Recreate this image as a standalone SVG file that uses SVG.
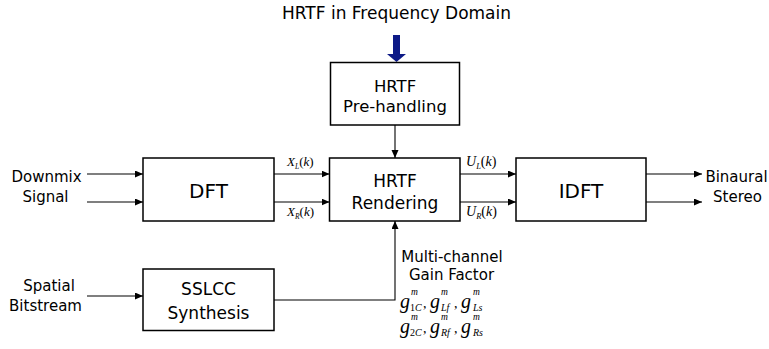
<svg xmlns="http://www.w3.org/2000/svg" width="769" height="349" viewBox="0 0 769 349">
<style>
.box{fill:#fff;stroke:#000;stroke-width:1.5}
.lbl{font-family:"DejaVu Sans",Verdana,sans-serif;fill:#000;text-anchor:middle}
.side{font-size:15px}
.bx{font-size:17px}
.big{font-size:20px}
.ln{fill:none;stroke:#000;stroke-width:1.1}
.m{font-family:"Liberation Serif","Times New Roman",serif;fill:#000}
.mi{font-style:italic}
.g{font-size:20px;font-style:italic}
.sp{font-size:9.5px;font-style:italic}
.sb{font-size:10px}
.cm{font-size:14px}
</style>
<defs>
<marker id="ah" markerUnits="userSpaceOnUse" markerWidth="9" markerHeight="8" refX="8" refY="3.5" orient="auto">
<path d="M0,0 L8,3.5 L0,7 z" fill="#000"/>
</marker>
</defs>

<text class="lbl" x="396.5" y="19" style="font-size:17px">HRTF in Frequency Domain</text>
<path d="M393,35 H400 V54 H406 L396.5,62 L387,54 H393 Z" fill="#0d1a87"/>

<g id="prehandling">
<rect class="box" x="330.5" y="62.5" width="129" height="62.5"/>
<text class="lbl" x="395" y="91.5" style="font-size:16.5px">HRTF</text>
<text class="lbl" x="395" y="112" style="font-size:16.5px">Pre-handling</text>
</g>

<g id="dft">
<rect class="box" x="143" y="158" width="131" height="63"/>
<text class="lbl big" x="208.5" y="198">DFT</text>
</g>

<g id="rendering">
<rect class="box" x="329.5" y="158" width="130.5" height="63"/>
<text class="lbl bx" x="395" y="187">HRTF</text>
<text class="lbl bx" x="395" y="209">Rendering</text>
</g>

<g id="idft">
<rect class="box" x="516" y="158" width="130" height="63"/>
<text class="lbl big" x="581" y="198">IDFT</text>
</g>

<g id="sslcc">
<rect class="box" x="143" y="269" width="131" height="61.5"/>
<text class="lbl bx" x="208.5" y="295">SSLCC</text>
<text class="lbl bx" x="208.5" y="319">Synthesis</text>
</g>

<g id="labels">
<text class="lbl side" x="46.5" y="182.3">Downmix</text>
<text class="lbl side" x="45.5" y="202">Signal</text>
<text class="lbl side" x="49" y="290.7">Spatial</text>
<text class="lbl side" x="45.5" y="310.5">Bitstream</text>
<text class="lbl side" x="736.5" y="181.7">Binaural</text>
<text class="lbl side" x="737.5" y="201.7">Stereo</text>
<text class="lbl side" x="452" y="261.5">Multi-channel</text>
<text class="lbl side" x="451.5" y="280">Gain Factor</text>
</g>

<g id="connectors">
<line class="ln" x1="87" y1="174" x2="143" y2="174" marker-end="url(#ah)"/>
<line class="ln" x1="87" y1="202" x2="143" y2="202" marker-end="url(#ah)"/>
<line class="ln" x1="87" y1="296" x2="143" y2="296" marker-end="url(#ah)"/>
<line class="ln" x1="274" y1="174" x2="329.5" y2="174" marker-end="url(#ah)"/>
<line class="ln" x1="274" y1="202" x2="329.5" y2="202" marker-end="url(#ah)"/>
<line class="ln" x1="460" y1="174" x2="516" y2="174" marker-end="url(#ah)"/>
<line class="ln" x1="460" y1="202" x2="516" y2="202" marker-end="url(#ah)"/>
<line class="ln" x1="646" y1="174" x2="702" y2="174" marker-end="url(#ah)"/>
<line class="ln" x1="646" y1="202" x2="702" y2="202" marker-end="url(#ah)"/>
<line class="ln" x1="395" y1="125" x2="395" y2="158" marker-end="url(#ah)"/>
<polyline class="ln" points="274,300 395,300 395,221" marker-end="url(#ah)"/>
</g>

<g id="signal-labels">
<text class="m" x="287" y="166" style="font-size:13px"><tspan class="mi">X</tspan><tspan class="mi" font-size="7.5" dy="2.5">L</tspan><tspan dy="-2.5">(</tspan><tspan class="mi">k</tspan><tspan>)</tspan></text>
<text class="m" x="287" y="216" style="font-size:13px"><tspan class="mi">X</tspan><tspan class="mi" font-size="7.5" dy="2.5">R</tspan><tspan dy="-2.5">(</tspan><tspan class="mi">k</tspan><tspan>)</tspan></text>
<text class="m" x="466" y="166" style="font-size:14px"><tspan class="mi">U</tspan><tspan class="mi" font-size="8.5" dy="2.5">L</tspan><tspan dy="-2.5">(</tspan><tspan class="mi">k</tspan><tspan>)</tspan></text>
<text class="m" x="466" y="216" style="font-size:14px"><tspan class="mi">U</tspan><tspan class="mi" font-size="8.5" dy="2.5">R</tspan><tspan dy="-2.5">(</tspan><tspan class="mi">k</tspan><tspan>)</tspan></text>
</g>

<g id="gains">
<text class="m" x="400" y="308"><tspan class="g" x="400" y="308">g</tspan><tspan class="sp" x="411" y="295">m</tspan><tspan class="sb" x="410" y="311">1<tspan class="mi">C</tspan></tspan><tspan class="cm" x="423" y="308">,</tspan><tspan class="g" x="430" y="308">g</tspan><tspan class="sp" x="441" y="295">m</tspan><tspan class="sb mi" x="441" y="311">Lf</tspan><tspan class="cm" x="454" y="308">,</tspan><tspan class="g" x="461" y="308">g</tspan><tspan class="sp" x="473" y="295">m</tspan><tspan class="sb mi" x="473" y="311">Ls</tspan></text>
<text class="m" x="400" y="332.5"><tspan class="g" x="400" y="332.5">g</tspan><tspan class="sp" x="411" y="319.5">m</tspan><tspan class="sb" x="410" y="335.5">2<tspan class="mi">C</tspan></tspan><tspan class="cm" x="423" y="332.5">,</tspan><tspan class="g" x="430" y="332.5">g</tspan><tspan class="sp" x="441" y="319.5">m</tspan><tspan class="sb mi" x="441" y="335.5">Rf</tspan><tspan class="cm" x="454" y="332.5">,</tspan><tspan class="g" x="461" y="332.5">g</tspan><tspan class="sp" x="473" y="319.5">m</tspan><tspan class="sb mi" x="473" y="335.5">Rs</tspan></text>
</g>
</svg>
